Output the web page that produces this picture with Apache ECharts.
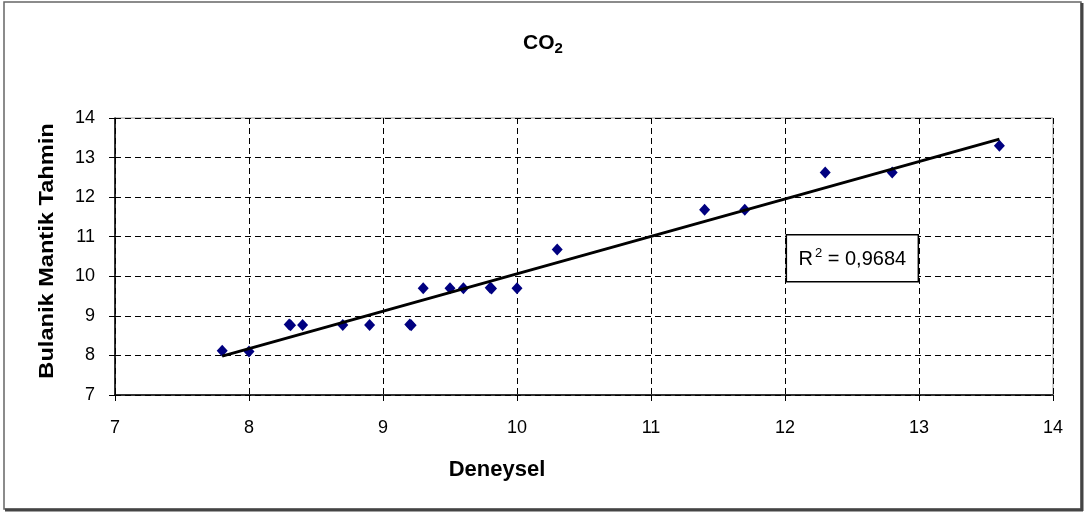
<!DOCTYPE html>
<html>
<head>
<meta charset="utf-8">
<style>
  html, body { margin: 0; padding: 0; background: #fff; }
  #chart { width: 1086px; height: 513px; }
</style>
<script src="https://cdn.jsdelivr.net/npm/echarts@6/dist/echarts.min.js"></script>
</head>
<body>
<div id="chart"></div>
<script>
// Measured (experimental) CO2 values vs. fuzzy-logic estimates
const deneysel = [7.8, 8.0, 8.3, 8.31, 8.4, 8.7, 8.9, 9.2, 9.21, 9.3, 9.5, 9.6, 9.8, 9.81, 10.0, 10.3, 11.4, 11.7, 12.3, 12.8, 13.6];
const tahmin   = [8.12, 8.1, 8.78, 8.76, 8.77, 8.77, 8.77, 8.78, 8.76, 9.7, 9.7, 9.7, 9.71, 9.69, 9.7, 10.68, 11.68, 11.68, 12.62, 12.62, 13.3];
const xTicks = [7, 8, 9, 10, 11, 12, 13, 14];
const yTicks = [7, 8, 9, 10, 11, 12, 13, 14];
const r2Text = '0,9684';

const points = deneysel.map((x, i) => [x, tahmin[i]]);

// least-squares linear trend line over the data range
function linearFit(xs, ys) {
  const n = xs.length;
  const mx = xs.reduce((a, b) => a + b, 0) / n;
  const my = ys.reduce((a, b) => a + b, 0) / n;
  let sxy = 0, sxx = 0;
  for (let i = 0; i < n; i++) {
    sxy += (xs[i] - mx) * (ys[i] - my);
    sxx += (xs[i] - mx) * (xs[i] - mx);
  }
  const slope = sxy / sxx;
  return { slope, intercept: my - slope * mx };
}
const fit = linearFit(deneysel, tahmin);
const xMin = Math.min(...deneysel), xMax = Math.max(...deneysel);
const trend = [
  [xMin, fit.intercept + fit.slope * xMin],
  [xMax, fit.intercept + fit.slope * xMax]
];

const FONT = '"Liberation Sans", Arial, sans-serif';
const chart = echarts.init(document.getElementById('chart'), null, { renderer: 'canvas' });

const gridLine = { show: true, lineStyle: { color: '#000', width: 1, type: [6, 4] } };

chart.setOption({
  backgroundColor: '#fff',
  animation: false,
  title: {
    text: '{a|CO}{b|2}',
    left: 'center',
    top: 26,
    textStyle: {
      rich: {
        a: { fontFamily: FONT, fontSize: 21, fontWeight: 'bold', color: '#000' },
        b: { fontFamily: FONT, fontSize: 15, fontWeight: 'bold', color: '#000', verticalAlign: 'bottom', padding: [10, 0, 0, 0] }
      }
    }
  },
  grid: {
    left: 115, right: 33, top: 118, bottom: 118,
    show: true, borderColor: '#9a9a9a', borderWidth: 1, backgroundColor: '#fff'
  },
  xAxis: {
    type: 'value',
    min: xTicks[0], max: xTicks[xTicks.length - 1], interval: 1,
    axisLine: { show: true, onZero: false, lineStyle: { color: '#000', width: 1.5 } },
    axisTick: { show: true, length: 6, lineStyle: { color: '#000' } },
    axisLabel: { fontFamily: FONT, fontSize: 18, color: '#000', margin: 24 },
    splitLine: gridLine
  },
  yAxis: {
    type: 'value',
    min: yTicks[0], max: yTicks[yTicks.length - 1], interval: 1,
    axisLine: { show: true, onZero: false, lineStyle: { color: '#000', width: 1.5 } },
    axisTick: { show: true, length: 6, lineStyle: { color: '#000' } },
    axisLabel: { fontFamily: FONT, fontSize: 18, color: '#000', margin: 20 },
    splitLine: gridLine
  },
  series: [
    {
      type: 'scatter',
      data: points,
      symbol: 'diamond',
      symbolSize: [11, 12],
      itemStyle: { color: '#000080', opacity: 1 },
      z: 3
    },
    {
      type: 'line',
      data: trend,
      showSymbol: false,
      symbol: 'none',
      lineStyle: { color: '#000', width: 3 },
      z: 4
    }
  ]
});

// R² label box anchored in data coordinates
const boxTL = chart.convertToPixel({ gridIndex: 0 }, [12.01, 11.05]);

chart.setOption({
  graphic: [
    // outer chart frame with darker shadow edges
    { type: 'rect', shape: { x: 4, y: 2, width: 1077, height: 507 },
      style: { fill: null, stroke: '#666', lineWidth: 1.5 }, silent: true, z: 100 },
    { type: 'line', shape: { x1: 5, y1: 510, x2: 1083, y2: 510 },
      style: { stroke: '#444', lineWidth: 3 }, silent: true, z: 100 },
    { type: 'line', shape: { x1: 1082, y1: 3, x2: 1082, y2: 511 },
      style: { stroke: '#444', lineWidth: 3 }, silent: true, z: 100 },
    // axis names
    { type: 'text', x: 497, y: 470, scaleX: 1.1, scaleY: 1.08,
      style: { text: 'Deneysel', fontFamily: FONT, fontSize: 20, fontWeight: 'bold', fill: '#000',
               align: 'center', verticalAlign: 'middle' }, z: 100 },
    { type: 'text', x: 47, y: 251, rotation: Math.PI / 2, scaleX: 1.18,
      style: { text: 'Bulanik Mantik Tahmin', fontFamily: FONT, fontSize: 20, fontWeight: 'bold', fill: '#000',
               align: 'center', verticalAlign: 'middle' }, z: 100 },
    // R² box
    { type: 'rect', shape: { x: boxTL[0], y: boxTL[1], width: 132, height: 47 },
      style: { fill: '#fff', stroke: '#000', lineWidth: 1.5 }, z: 100 },
    { type: 'text', x: boxTL[0] + 66, y: boxTL[1] + 25,
      style: {
        text: '{r|R}{s|2}{r| = ' + r2Text + '}',
        align: 'center', verticalAlign: 'middle',
        rich: {
          r: { fontFamily: FONT, fontSize: 20, fill: '#000', color: '#000' },
          s: { fontFamily: FONT, fontSize: 13, fill: '#000', color: '#000', verticalAlign: 'top', padding: [0, 0, 12, 2] }
        }
      }, z: 101 }
  ]
});
</script>
</body>
</html>
